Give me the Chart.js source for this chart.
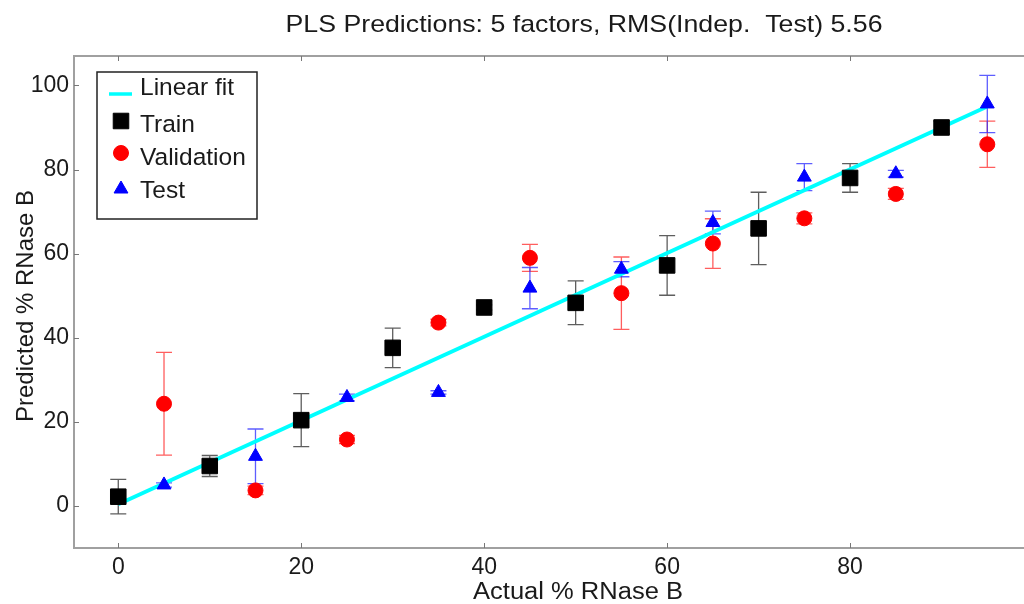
<!DOCTYPE html>
<html lang="en">
<head>
<meta charset="UTF-8">
<title>PLS Predictions</title>
<script src="https://cdn.jsdelivr.net/npm/chart.js"></script>
<style>
    html, body { margin: 0; padding: 0; background: #fff; overflow: hidden; }
    #wrap { position: relative; width: 1024px; height: 604px; }
</style>
</head>
<body>
<div id="wrap"><canvas id="plsChart"></canvas></div>
<script>
// actual % RNase B for each group
const trainX = [0, 10, 20, 30, 40, 50, 60, 70, 80, 90];
const valX   = [5, 15, 25, 35, 45, 55, 65, 75, 85, 95];
const testX  = [5, 15, 25, 35, 45, 55, 65, 75, 85, 95];

// predicted % RNase B (mean) and error bar half-widths
const trainY = [2.2, 9.5, 20.4, 37.6, 47.2, 48.3, 57.2, 66.0, 78.0, 90.0];
const trainErr = [4.1, 2.5, 6.3, 4.7, 0.6, 5.2, 7.1, 8.6, 3.4, 1.5];
const valY = [24.3, 3.7, 15.8, 43.6, 59.0, 50.6, 62.4, 68.4, 74.2, 86.0];
const valErr = [12.2, 1.0, 1.0, 0.8, 3.2, 8.6, 5.9, 1.3, 1.3, 5.5];
const testY = [5.0, 11.8, 25.8, 27.0, 51.8, 56.3, 67.4, 78.2, 79.0, 95.6];
const testErr = [0.5, 6.5, 0.8, 0.4, 4.9, 1.8, 2.7, 3.2, 0.8, 6.8];

// linear fit end points
const fitX = [0, 95];
const fitY = [0.4, 95.0];

const xTicks = [0, 20, 40, 60, 80];
const yTicks = [0, 20, 40, 60, 80, 100];

const FONT = '"Liberation Sans", Arial, Helvetica, sans-serif';

function pts(xs, ys) {
    return xs.map((x, i) => ({ x: x, y: ys[i] }));
}

const canvas = document.getElementById('plsChart');
canvas.width = 1024;
canvas.height = 604;

// error bars, frame ticks, legend and labels
const extras = {
    id: 'extras',
    beforeDatasetsDraw(chart) {
        const ctx = chart.ctx;
        const xs = chart.scales.x, ys = chart.scales.y;
        const groups = [
            [trainX, trainY, trainErr, 'rgba(40,40,40,0.75)'],
            [valX, valY, valErr, 'rgba(255,40,40,0.75)'],
            [testX, testY, testErr, 'rgba(40,40,255,0.75)']
        ];
        ctx.save();
        ctx.lineWidth = 1.3;
        groups.forEach(g => {
            ctx.strokeStyle = g[3];
            g[0].forEach((x, i) => {
                const px = xs.getPixelForValue(x);
                const top = ys.getPixelForValue(g[1][i] + g[2][i]);
                const bot = ys.getPixelForValue(g[1][i] - g[2][i]);
                ctx.beginPath();
                ctx.moveTo(px, top); ctx.lineTo(px, bot);
                ctx.moveTo(px - 8, top); ctx.lineTo(px + 8, top);
                ctx.moveTo(px - 8, bot); ctx.lineTo(px + 8, bot);
                ctx.stroke();
            });
        });
        ctx.restore();
    },
    afterDraw(chart) {
        const ctx = chart.ctx;
        const a = chart.chartArea;
        const xs = chart.scales.x, ys = chart.scales.y;
        ctx.save();
        // top frame (runs off the right edge like the cropped figure)
        ctx.strokeStyle = '#a0a0a0';
        ctx.lineWidth = 2;
        ctx.beginPath();
        ctx.moveTo(a.left - 1, a.top); ctx.lineTo(chart.width, a.top);
        ctx.moveTo(a.right - 1, a.bottom); ctx.lineTo(chart.width, a.bottom);
        ctx.stroke();
        ctx.strokeStyle = '#777';
        ctx.lineWidth = 1;
        ctx.beginPath();
        xTicks.forEach(v => {
            const px = Math.round(xs.getPixelForValue(v)) + 0.5;
            ctx.moveTo(px, a.bottom); ctx.lineTo(px, a.bottom - 5);
            ctx.moveTo(px, a.top); ctx.lineTo(px, a.top + 5);
        });
        yTicks.forEach(v => {
            const py = Math.round(ys.getPixelForValue(v)) + 0.5;
            ctx.moveTo(a.left, py); ctx.lineTo(a.left + 5, py);
        });
        ctx.stroke();

        // titles
        ctx.fillStyle = '#1a1a1a';
        const fitText = (txt, cx, base, size, width) => {
            ctx.font = size + 'px ' + FONT;
            const w = ctx.measureText(txt).width;
            ctx.save();
            ctx.translate(cx, base);
            ctx.scale(width / w, 1);
            ctx.textAlign = 'center';
            ctx.textBaseline = 'alphabetic';
            ctx.fillText(txt, 0, 0);
            ctx.restore();
        };
        fitText('PLS Predictions: 5 factors, RMS(Indep.  Test) 5.56', 584, 32, 24, 597);
        fitText('Actual % RNase B', 578, 599, 23, 210);
        ctx.save();
        ctx.translate(33, 306);
        ctx.rotate(-Math.PI / 2);
        ctx.font = '24px ' + FONT;
        ctx.textAlign = 'center';
        ctx.textBaseline = 'alphabetic';
        ctx.fillText('Predicted % RNase B', 0, 0);
        ctx.restore();

        // legend
        ctx.fillStyle = '#fff';
        ctx.fillRect(97, 72, 160, 147);
        ctx.strokeStyle = '#222';
        ctx.lineWidth = 1.5;
        ctx.strokeRect(97, 72, 160, 147);
        ctx.strokeStyle = '#00ffff';
        ctx.lineWidth = 3.5;
        ctx.beginPath();
        ctx.moveTo(109, 94); ctx.lineTo(132, 94);
        ctx.stroke();
        const ds = chart.data.datasets;
        const icon = (d, y) => {
            ctx.fillStyle = d.backgroundColor;
            ctx.strokeStyle = d.borderColor;
            ctx.lineWidth = d.borderWidth;
            Chart.helpers.drawPoint(ctx, {
                pointStyle: d.pointStyle, radius: d.pointRadius,
                rotation: 0, borderWidth: d.borderWidth
            }, 121, y);
        };
        icon(ds[1], 121);
        icon(ds[2], 153);
        icon(ds[3], 189);
        ctx.fillStyle = '#1a1a1a';
        ctx.font = '24.5px ' + FONT;
        ctx.textAlign = 'left';
        ctx.textBaseline = 'alphabetic';
        ctx.fillText('Linear fit', 140, 95);
        ctx.fillText('Train', 140, 132);
        ctx.fillText('Validation', 140, 165);
        ctx.fillText('Test', 140, 198);
        ctx.restore();
    }
};

new Chart(canvas, {
    type: 'scatter',
    data: {
        datasets: [
            {
                type: 'line',
                label: 'Linear fit',
                data: pts(fitX, fitY),
                borderColor: '#00ffff',
                backgroundColor: '#00ffff',
                borderWidth: 4,
                pointRadius: 0,
                fill: false,
                order: 4
            },
            {
                label: 'Train',
                data: pts(trainX, trainY),
                pointStyle: 'rect',
                pointRadius: 11,
                backgroundColor: '#000',
                borderColor: '#000',
                borderWidth: 1,
                order: 3
            },
            {
                label: 'Validation',
                data: pts(valX, valY),
                pointStyle: 'circle',
                pointRadius: 7.5,
                backgroundColor: '#ff0000',
                borderColor: '#ff0000',
                borderWidth: 1,
                order: 2
            },
            {
                label: 'Test',
                data: pts(testX, testY),
                pointStyle: 'triangle',
                pointRadius: 8,
                backgroundColor: '#0000ff',
                borderColor: '#0000ff',
                borderWidth: 1,
                order: 1
            }
        ]
    },
    options: {
        responsive: false,
        animation: false,
        events: [],
        layout: { padding: { top: 56, left: 0, right: 0, bottom: 0 } },
        plugins: {
            legend: { display: false },
            title: { display: false },
            tooltip: { enabled: false }
        },
        scales: {
            x: {
                type: 'linear',
                min: -4.84,
                max: 97.7,
                afterFit: s => { s.height = 56; },
                afterBuildTicks: s => { s.ticks = xTicks.map(v => ({ value: v })); },
                grid: { display: false, drawTicks: false },
                border: { display: true, color: '#a0a0a0', width: 2 },
                ticks: {
                    padding: 6,
                    color: '#1a1a1a',
                    font: { family: FONT, size: 23 },
                    maxRotation: 0
                }
            },
            y: {
                type: 'linear',
                min: -10,
                max: 107,
                afterFit: s => { s.width = 74; },
                afterBuildTicks: s => { s.ticks = yTicks.map(v => ({ value: v })); },
                grid: { display: false, drawTicks: false },
                border: { display: true, color: '#a0a0a0', width: 2 },
                ticks: {
                    padding: 5,
                    color: '#1a1a1a',
                    font: { family: FONT, size: 23 }
                }
            }
        }
    },
    plugins: [extras]
});
</script>
</body>
</html>
